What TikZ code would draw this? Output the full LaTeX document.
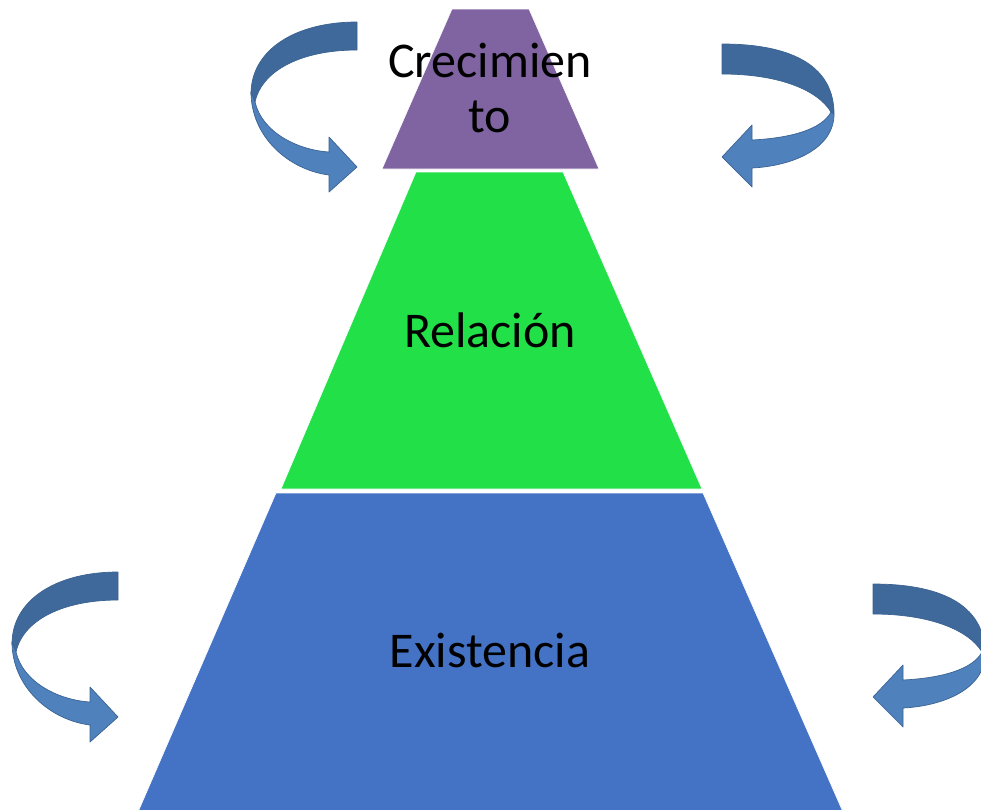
\documentclass[tikz,border=0pt]{standalone}
\usepackage{fontspec}
\setmainfont{Carlito}
\definecolor{tpurple}{RGB}{128,100,162}
\definecolor{tgreen}{RGB}{34,224,72}
\definecolor{tblue}{RGB}{68,114,196}
\definecolor{adark}{RGB}{64,105,155}
\definecolor{alight}{RGB}{79,129,189}
\definecolor{aline}{RGB}{58,98,146}
\tikzset{
  layer/.style={draw=white, line width=0.6pt},
  lbl/.style={font=\fontsize{50}{55}\selectfont, text=black, inner sep=0pt, align=center},
  darkband/.style={fill=adark, draw=aline, line width=0.7pt, line join=round},
  lightband/.style={fill=alight, draw=aline, line width=0.7pt, line join=round},
  tallarrow/.pic={
    \path[darkband] (0,0) .. controls (-62,0) and (-106,28) .. (-106,72)
      -- (-102,80) .. controls (-95,48) and (-55,28) .. (0,28) -- cycle;
    \path[lightband] (-106,70) .. controls (-106,115) and (-68,148) .. (-28,153)
      -- (-28,170) -- (0,145) -- (-28,115) -- (-28,130)
      .. controls (-60,128) and (-95,110) .. (-102,80) -- cycle;
  },
  widearrow/.pic={
    \path[darkband] (0,0) .. controls (75,0) and (112,25) .. (112,70)
      -- (109,68) .. controls (95,45) and (55,30) .. (0,30) -- cycle;
    \path[lightband] (112,70) .. controls (112,105) and (70,122) .. (30,124)
      -- (30,143) -- (0,113) -- (30,81) -- (30,96)
      .. controls (70,94) and (100,85) .. (109,68) -- cycle;
  }
}
\begin{document}
\begin{tikzpicture}[x=1pt,y=-1pt]
\useasboundingbox (0,0) rectangle (981,809);
\clip (0,0) rectangle (981,809);
% pyramid layers
\path[layer, fill=tblue] (276,493) -- (703,493) -- (843,812) -- (138,812) -- cycle;
\path[layer, fill=tgreen] (416,172) -- (563,172) -- (702,489) -- (281,489) -- cycle;
\path[layer, fill=tpurple] (452,9) -- (529,9) -- (599,169) -- (382,169) -- cycle;
% labels
\node[lbl] (crec) at (490,87.5) {Crecimien\\to};
\node[lbl, anchor=base] (rel) at (490,347) {Relación};
\node[lbl, anchor=base] (exi) at (490,667) {Existencia};
% curved arrows
\pic (tl) at (357,22) {tallarrow};
\pic (bl) at (118,572) {tallarrow};
\pic (tr) at (722,44) {widearrow};
\pic (br) at (873,584) {widearrow};
\end{tikzpicture}
\end{document}
